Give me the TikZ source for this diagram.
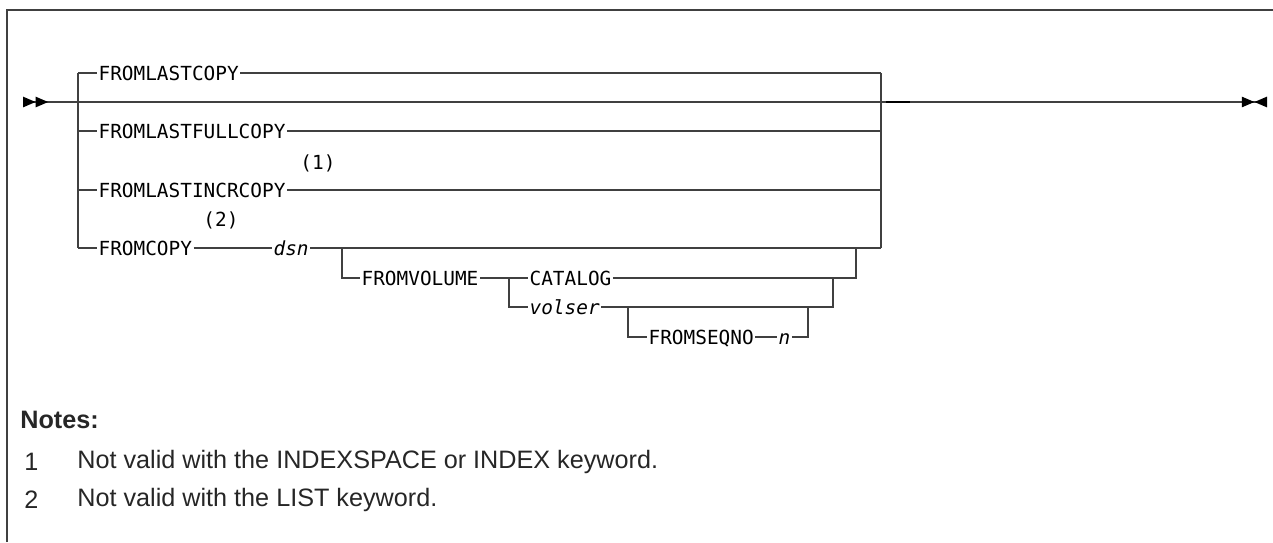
\documentclass[tikz,border=0pt]{standalone}
\usepackage{fontspec}
\setmainfont{Liberation Sans}
\newfontfamily\railfont{DejaVu Sans Mono}
\usetikzlibrary{positioning, arrows.meta}

\begin{document}
\begin{tikzpicture}[x=0.5pt, y=-0.5pt,
    kw/.style={font=\railfont\fontsize{9.7pt}{11pt}\selectfont, inner xsep=0.6pt, inner ysep=0pt, anchor=west, text height=7.1pt, text depth=0pt},
    var/.style={kw, font=\railfont\fontsize{9.7pt}{11pt}\selectfont\itshape},
    fnmark/.style={font=\railfont\fontsize{9.7pt}{11pt}\selectfont, inner sep=0pt},
    notetext/.style={font=\fontsize{12.6pt}{14pt}\selectfont, inner sep=0pt, anchor=west, text=black!85},
    rail/.style={draw=black!75, line width=0.7pt}]

    \useasboundingbox (0,0) rectangle (1273,542);

    % Frame
    \draw[black!75, line width=0.8pt] (7,542) -- (7,10) -- (1273,10);

    % Draw keywords
    \node (lastcopy) [kw] at (97,73) {FROMLASTCOPY};
    \node (fullcopy) [kw] at (97,131) {FROMLASTFULLCOPY};
    \node (incrcopy) [kw] at (97,190) {FROMLASTINCRCOPY};
    \node (fromcopy) [kw] at (97,248) {FROMCOPY};
    \node (dsn) [var] at (272,248) {dsn};
    \node (fromvol) [kw] at (360,278) {FROMVOLUME};
    \node (catalog) [kw] at (528,278) {CATALOG};
    \node (volser) [var] at (528,307) {volser};
    \node (seqno) [kw] at (647,337) {FROMSEQNO};
    \node (n) [var] at (777,337) {n};
    \node (fn1) [fnmark] at (318,163) {(1)};
    \node (fn2) [fnmark] at (221,220) {(2)};

    % Draw junctions
    \coordinate (start) at (23,102);
    \coordinate (stop) at (1267,102);
    \coordinate (L1) at (78,73);
    \coordinate (L4) at (78,248);
    \coordinate (R1) at (881,73);
    \coordinate (R4) at (881,248);
    \coordinate (V1) at (342,248);
    \coordinate (V2) at (856,248);
    \coordinate (C1) at (509,278);
    \coordinate (C2) at (833,278);
    \coordinate (S1) at (628,307);
    \coordinate (S2) at (808,307);
    \coordinate (T1) at (886,102);
    \coordinate (T2) at (910,102);

    % Draw main line
    \draw[rail, {Triangle[reversed,length=6.3pt,width=5.2pt,black]Triangle[reversed,length=6.3pt,width=5.2pt,black]}-{Triangle[length=6.3pt,width=5.2pt,black]Triangle[reversed,length=6.3pt,width=5.2pt,black]}] (start) -- (stop);
    \draw[black, line width=1.4pt] (T1) -- (T2);

    % Draw branches
    \draw[rail] (L1) -- (L4);
    \draw[rail] (R1) -- (R4);
    \draw[rail] (L1) -- (lastcopy.west);
    \draw[rail] (lastcopy.east) -- (R1);
    \draw[rail] (L1 |- fullcopy.west) -- (fullcopy.west);
    \draw[rail] (fullcopy.east) -- (R1 |- fullcopy.east);
    \draw[rail] (L1 |- incrcopy.west) -- (incrcopy.west);
    \draw[rail] (incrcopy.east) -- (R1 |- incrcopy.east);
    \draw[rail] (L4) -- (fromcopy.west);
    \draw[rail] (fromcopy.east) -- (dsn.west);
    \draw[rail] (dsn.east) -- (R4);

    % Draw FROMVOLUME group
    \draw[rail] (V1) -- (V1 |- fromvol.west) -- (fromvol.west);
    \draw[rail] (fromvol.east) -- (catalog.west);
    \draw[rail] (catalog.east) -- (V2 |- catalog.east) -- (V2);
    \draw[rail] (C1) -- (C1 |- volser.west) -- (volser.west);
    \draw[rail] (volser.east) -- (C2 |- volser.east) -- (C2);
    \draw[rail] (S1) -- (S1 |- seqno.west) -- (seqno.west);
    \draw[rail] (seqno.east) -- (n.west);
    \draw[rail] (n.east) -- (S2 |- n.east) -- (S2);

    % Draw notes
    \node (notes) [notetext, font=\fontsize{12.6pt}{14pt}\selectfont\bfseries] at (20,420) {Notes:};
    \node (num1) [notetext] at (24,462) {1};
    \node (note1) [notetext] at (77,462) {Not valid with the INDEXSPACE or INDEX keyword.};
    \node (num2) [notetext] at (24,500) {2};
    \node (note2) [notetext] at (77,500) {Not valid with the LIST keyword.};

\end{tikzpicture}
\end{document}
